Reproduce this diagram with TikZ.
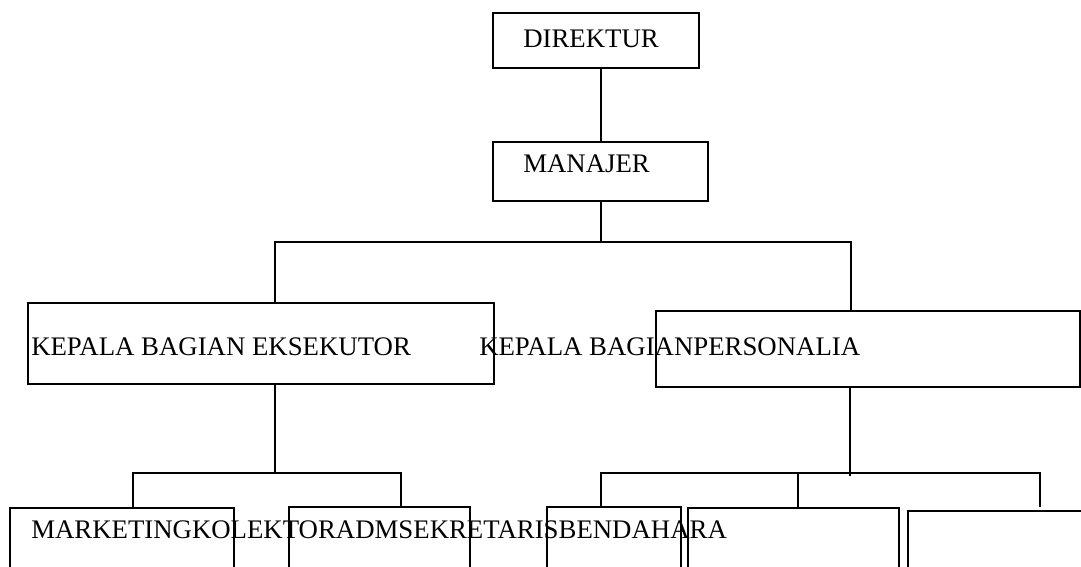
\documentclass[tikz,border=0pt]{standalone}
\usepackage{fontspec}
\setmainfont{Liberation Serif}
\newcommand{\px}{0.75pt}

\begin{document}
\begin{tikzpicture}[x=0.75pt,y=-0.75pt,
    box/.style={draw,line width=1pt,inner sep=0pt,outer sep=0pt,anchor=north west},
    lbl/.style={anchor=base west,inner sep=0pt,font=\fontsize{20.1}{24}\selectfont},
    link/.style={line width=1pt}]
    \clip (0,0) rectangle (1081,567);

    % Boxes
    \node[box,minimum width=206*\px,minimum height=55*\px] (dir) at (493,13) {};
    \node[box,minimum width=215*\px,minimum height=59*\px] (man) at (493,142) {};
    \node[box,minimum width=466*\px,minimum height=81*\px] (kbe) at (28,303) {};
    \node[box,minimum width=424*\px,minimum height=76*\px] (kbp) at (656,311) {};
    \node[box,minimum width=224*\px,minimum height=80*\px] (mkt) at (10,508) {};
    \node[box,minimum width=181*\px,minimum height=80*\px] (kol) at (289,507) {};
    \node[box,minimum width=134*\px,minimum height=80*\px] (ben) at (547,507) {};
    \node[box,minimum width=211*\px,minimum height=80*\px] (bfive) at (688,508) {};
    \node[box,minimum width=200*\px,minimum height=80*\px] (bsix) at (908,511) {};

    % Texts
    \node[lbl] (tdir) at (523,48) {DIREKTUR};
    \node[lbl] (tman) at (523,172) {MANAJER};
    \node[lbl] (tkbe) at (31,355) {KEPALA BAGIAN EKSEKUTOR};
    \node[lbl] (tkbp) at (479,355) {KEPALA BAGIANPERSONALIA};
    \node[lbl] (tbot) at (31,538) {MARKETINGKOLEKTORADMSEKRETARISBENDAHARA};

    % Junctions
    \coordinate (jtop) at (601,242);
    \coordinate (jl) at (275,242);
    \coordinate (jr) at (851,242);
    \coordinate (jla) at (133,473);
    \coordinate (jlm) at (275,473);
    \coordinate (jlb) at (401,473);
    \coordinate (jra) at (601,473);
    \coordinate (jrb) at (798,473);
    \coordinate (jrm) at (850,476);
    \coordinate (jrc) at (1040,473);
    \coordinate (jrce) at (1040,507);

    % Lines
    \draw[link] (dir.south -| jtop) -- (man.north -| jtop);
    \draw[link] (man.south -| jtop) -- (jtop);
    \draw[link] (kbe.north -| jl) -- (jl) -- (jr) -- (kbp.north -| jr);
    \draw[link] (kbe.south -| jlm) -- (jlm);
    \draw[link] (mkt.north -| jla) -- (jla) -- (jlb) -- (kol.north -| jlb);
    \draw[link] (kbp.south -| jrm) -- (jrm);
    \draw[link] (ben.north -| jra) -- (jra) -- (jrc) -- (jrce);
    \draw[link] (jrb) -- (bfive.north -| jrb);
\end{tikzpicture}
\end{document}
